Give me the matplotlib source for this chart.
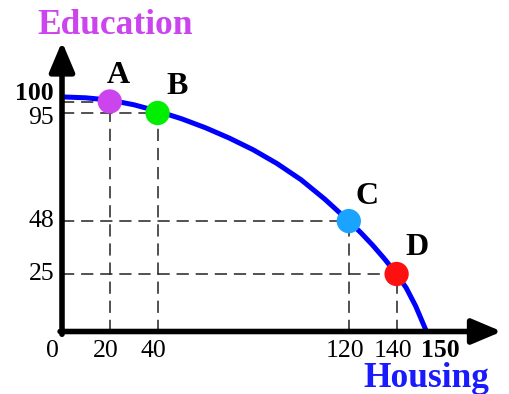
import matplotlib

matplotlib.use("Agg")
import matplotlib.pyplot as plt

# production possibilities frontier
curve_x = [0, 10, 20, 30, 40, 50, 60, 70, 80, 90, 100, 110, 120, 125, 130, 135, 140, 144, 148, 152.5]
curve_y = [102, 101.6, 100.6, 98.6, 95.8, 92.5, 88.6, 84.1, 79.0, 73.0, 66.0, 57.5, 48.0,
           43.0, 37.5, 31.5, 25.0, 19.0, 11.0, 0]

point_names = ["A", "B", "C", "D"]
point_x = [20, 40, 120, 140]
point_y = [100, 95, 48, 25]
point_colors = ["#cc44ee", "#00ee00", "#1aa3ff", "#ff1010"]

x_ticks = [0, 20, 40, 120, 140, 150]
y_ticks = [100, 95, 48, 25]

plt.rcParams["font.family"] = ["Liberation Serif", "DejaVu Serif"]

fig = plt.figure(figsize=(5.09, 3.94), dpi=100)
ax = fig.add_axes([0, 0, 1, 1])
ax.set_xlim(-62 / 2.39, 447 / 2.39)
ax.set_ylim(-62.5 / 2.3, 331.5 / 2.3)
ax.axis("off")

# dashed guides
dash = dict(color="#222222", lw=1.1, dashes=(8, 4.5), zorder=1)
for px, py in zip(point_x, point_y):
    ax.plot([px, px], [0, py], **dash)
    ax.plot([0, px], [py, py], **dash)

# curve and points
ax.plot(curve_x, curve_y, color="#0000ff", lw=3.6, solid_capstyle="butt",
        solid_joinstyle="round", zorder=2)
ax.scatter(point_x, point_y, s=17.5**2, c=point_colors, zorder=3, linewidths=0)
label_offsets = [(6, 19), (14, 19), (13, 18), (15, 19)]
for name, px, py, off in zip(point_names, point_x, point_y, label_offsets):
    ax.annotate(name, (px, py), xytext=off, textcoords="offset points",
                ha="center", va="center", fontsize=23, fontweight="bold", zorder=4)

# axes with arrows
arrow = dict(arrowstyle="-|>,head_length=0.9,head_width=0.38", lw=4, color="black",
             shrinkA=0, shrinkB=0, mutation_scale=20)
ax.annotate("", xy=(0, 126), xytext=(0, -1.2), arrowprops=arrow, zorder=5)
ax.annotate("", xy=(184, 0), xytext=(-0.8, 0), arrowprops=arrow, zorder=5)

# tick labels
fs = 18.5
for t in x_ticks:
    if t == 0:
        ax.text(-1.2, -11, "0", ha="right", va="baseline", fontsize=fs)
    elif t == 150:
        ax.text(150.4, -11, "150", ha="left", va="baseline", fontsize=fs, fontweight="bold")
    else:
        ax.text(t - 1.6, -11, str(t), ha="center", va="baseline", fontsize=fs)
y_label_pos = {100: 103.3, 95: 93.0}
for t in y_ticks:
    ax.text(-3.3, y_label_pos.get(t, t), str(t), ha="right", va="center", fontsize=fs,
            fontweight="bold" if t == 100 else "normal")

ax.text(115 / 509, 1 - 34 / 394, "Education", transform=ax.transAxes, ha="center",
        va="baseline", fontsize=25.5, fontweight="bold", color="#cc44ee")
ax.text(426 / 509, 1 - 387 / 394, "Housing", transform=ax.transAxes, ha="center",
        va="baseline", fontsize=25.5, fontweight="bold", color="#1a1aff")

fig.savefig("out.png", dpi=100)
plt.close(fig)
